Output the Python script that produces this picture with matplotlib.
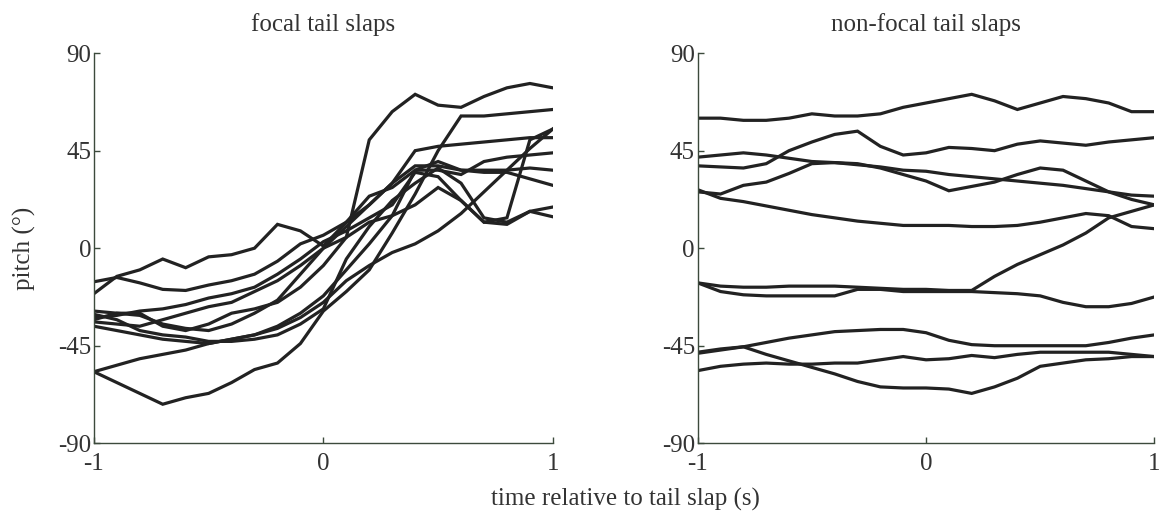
import numpy as np
import matplotlib.pyplot as plt

# time axis, 0.1 s steps
t = np.round(np.arange(-1.0, 1.01, 0.1), 1)

# focal tail slaps - pitch traces (deg)
focal = [
    [-21, -13, -10, -5, -9, -4, -3, 0, 11, 8, 1, 12, 24, 28, 36, 36, 34, 40, 42, 43, 44],
    [-15.5, -13.5, -16, -19, -19.5, -17, -15, -12, -6, 2, 6, 12, 20, 30, 45, 47, 48, 49, 50, 51, 51],
    [-33, -30, -31, -35, -37, -38, -35, -30, -24, -12, 0, 5, 50, 63, 71, 66, 65, 70, 74, 76, 74],
    [-57, -62, -67, -72, -69, -67, -62, -56, -53, -44, -29, -20, -10, 7, 25, 45, 61, 61, 62, 63, 64],
    [-57, -54, -51, -49, -47, -44, -42, -40, -37, -32, -25, -15, -8, -2, 2, 8, 16, 26, 36, 46, 55],
    [-29, -30, -30, -36, -38, -35, -30, -28, -25, -18, -8, 5, 12, 15, 20, 28, 22, 12, 14, 50, 55],
    [-30.5, -33, -38, -40, -41, -43, -43, -42, -40, -35, -28, -5, 10, 22, 30, 37, 30, 14, 12, 17, 19],
    [-32, -31, -29, -28, -26, -23, -21, -18, -12, -5, 3, 8, 14, 20, 35, 33, 22, 12, 11, 17, 14.5],
    [-34, -35, -36, -33, -30, -27, -25, -20, -15, -8, 0, 10, 20, 30, 38, 38, 36, 36, 36, 37, 36],
    [-36, -38, -40, -42, -43, -44, -42, -40, -36, -30, -22, -10, 2, 15, 36, 40, 36, 35, 35, 32, 29],
]

# non-focal tail slaps - pitch traces (deg)
nonfocal = [
    [60, 60, 59, 59, 60, 62, 61, 61, 62, 65, 67, 69, 71, 68, 64, 67, 70, 69, 67, 63, 63],
    [38, 37.5, 37, 39, 45, 49, 52.5, 54, 47, 43, 44, 46.5, 46, 45, 48, 49.5, 48.5, 47.5, 49, 50, 51],
    [42, 43, 44, 43, 41.5, 40, 39.5, 38.5, 37.5, 36, 35.5, 34, 33, 32, 31, 30, 29, 27.5, 26, 24.5, 24],
    [26, 25, 29, 30.5, 34.5, 39, 39.5, 39, 37, 34, 31, 26.5, 28.5, 30.5, 34, 37, 36, 31, 26, 22.5, 20],
    [27, 23, 21.5, 19.5, 17.5, 15.5, 14, 12.5, 11.5, 10.5, 10.5, 10.5, 10, 10, 10.5, 12, 14, 16, 15, 10, 9],
    [-16, -17.5, -18, -18, -17.5, -17.5, -17.5, -18, -18.5, -19, -19, -19.5, -19.5, -13, -7.5, -3, 1.5, 7, 14, 17, 20],
    [-16, -20, -21.5, -22, -22, -22, -22, -19, -19, -20, -20, -20, -20, -20.5, -21, -22, -25, -27, -27, -25.5, -22.5],
    [-48, -46.5, -45.5, -43.5, -41.5, -40, -38.5, -38, -37.5, -37.5, -39, -42.5, -44.5, -45, -45, -45, -45, -45, -43.5, -41.5, -40],
    [-48.5, -47, -45.5, -49, -52, -55, -58, -61.5, -64, -64.5, -64.5, -65, -67, -64, -60, -54.5, -53, -51.5, -51, -50, -50],
    [-56.5, -54.5, -53.5, -53, -53.5, -53.5, -53, -53, -51.5, -50, -51.5, -51, -49.5, -50.5, -49, -48, -48, -48, -48, -49, -50],
]

titles = ['focal tail slaps', 'non-focal tail slaps']
yticks = [-90, -45, 0, 45, 90]
xticks = [-1, 0, 1]

plt.rcParams['font.family'] = ['Liberation Serif', 'DejaVu Serif']
plt.rcParams['axes.unicode_minus'] = False
txt = '#333333'

fig = plt.figure(figsize=(11.59, 5.16), dpi=100)
ax1 = fig.add_axes([0.081, 0.141, 0.396, 0.756])
ax2 = fig.add_axes([0.602, 0.141, 0.394, 0.756])

for ax, data, title in zip([ax1, ax2], [focal, nonfocal], titles):
    for trace in data:
        ax.plot(t, trace, color='#222222', lw=2.3, solid_joinstyle='miter')
    ax.set_xlim(-1, 1)
    ax.set_ylim(-90, 90)
    ax.set_xticks(xticks)
    ax.set_yticks(yticks)
    ax.spines['top'].set_visible(False)
    ax.spines['right'].set_visible(False)
    for s in ['left', 'bottom']:
        ax.spines[s].set_color('#3c4a3c')
        ax.spines[s].set_linewidth(1.0)
    ax.tick_params(direction='in', length=4, width=1, colors='#3c4a3c',
                   labelcolor=txt, labelsize=18)
    ax.tick_params(axis='x', pad=7)
    ax.tick_params(axis='y', pad=2)
    ax.set_title(title, fontsize=18, color=txt, pad=16)

ax1.set_ylabel('pitch (°)', fontsize=18, color=txt, labelpad=16)
fig.text(0.54, 0.02, 'time relative to tail slap (s)', ha='center',
         fontsize=18, color=txt)

fig.savefig('out.png', dpi=100)
